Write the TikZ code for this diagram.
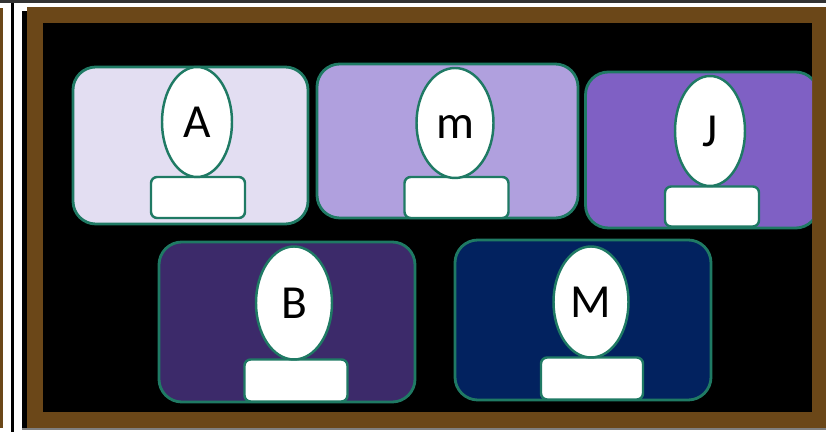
\documentclass[tikz,border=0pt]{standalone}
\usepackage{xcolor}
\usepackage{fontspec}
\setmainfont{Carlito}
\usetikzlibrary{shapes,positioning}
\definecolor{framebrown}{HTML}{6B4718}
\definecolor{edgegreen}{HTML}{1F7A64}
\definecolor{paneA}{HTML}{E3DEF2}
\definecolor{paneM}{HTML}{B0A0DE}
\definecolor{paneJ}{HTML}{7F60C4}
\definecolor{paneB}{HTML}{3C2A6A}
\definecolor{paneMM}{HTML}{02225F}
\tikzset{
  panel/.style={draw=edgegreen, line width=1.6pt, rounded corners=13pt, inner sep=0pt},
  face/.style={ellipse, draw=edgegreen, line width=1.4pt, fill=white, inner sep=0pt, text height=18pt, text depth=0pt, font=\fontsize{27}{27}\selectfont},
  plate/.style={draw=edgegreen, line width=1.4pt, fill=white, rounded corners=3.5pt, inner sep=0pt}
}
\begin{document}
\begin{tikzpicture}[x=0.02cm,y=-0.02cm]
    \useasboundingbox (0,0) rectangle (826,432);

    % Page edge
    \fill[white] (0,0) rectangle (826,432);
    \fill[gray!40!black] (0,0) rectangle (826,3);
    \fill[framebrown] (0,8) rectangle (3,428);
    \fill[black] (11,3) rectangle (14,432);
    \fill[black] (22,11) rectangle (27,428);
    \fill[gray] (22,428) rectangle (826,430);

    % Frame
    \fill[framebrown] (27,7) rectangle (826,428);
    \fill[black] (43,23) rectangle (812,412);

    % Top row
    \node[panel, fill=paneA, minimum width=235*0.02cm, minimum height=157*0.02cm] (panelA) at (190.5,145.5) {};
    \node[panel, fill=paneM, minimum width=261*0.02cm, minimum height=154*0.02cm] (panelm) at (447.5,141) {};
    \begin{scope}
        \clip (580,60) rectangle (812,235);
        \node[panel, fill=paneJ, minimum width=233*0.02cm, minimum height=156*0.02cm] (panelJ) at (702,150) {};
    \end{scope}

    % Bottom row
    \node[panel, fill=paneB, minimum width=256*0.02cm, minimum height=160*0.02cm] (panelB) at (287,322) {};
    \node[panel, fill=paneMM, minimum width=256*0.02cm, minimum height=160*0.02cm] (panelMM) at (583,320) {};

    % Plates
    \node[plate, minimum width=94*0.02cm, minimum height=41*0.02cm] (plateA) at (198,197.5) {};
    \node[plate, minimum width=104*0.02cm, minimum height=41*0.02cm] (platem) at (456.5,197.5) {};
    \node[plate, minimum width=94*0.02cm, minimum height=40*0.02cm] (plateJ) at (712,206.5) {};
    \node[plate, minimum width=103*0.02cm, minimum height=42*0.02cm] (plateB) at (296,380.5) {};
    \node[plate, minimum width=102*0.02cm, minimum height=42*0.02cm] (plateMM) at (592,378.5) {};

    % Faces
    \node[face, minimum width=70*0.02cm, minimum height=110*0.02cm] (faceA) at (197,122) {A};
    \node[face, minimum width=77*0.02cm, minimum height=110*0.02cm] (facem) at (455,123) {m};
    \node[face, minimum width=70*0.02cm, minimum height=110*0.02cm] (faceJ) at (710,131) {J};
    \node[face, minimum width=76*0.02cm, minimum height=113*0.02cm] (faceB) at (294,303) {B};
    \node[face, minimum width=75*0.02cm, minimum height=111*0.02cm] (faceMM) at (591,302) {M};
\end{tikzpicture}
\end{document}
